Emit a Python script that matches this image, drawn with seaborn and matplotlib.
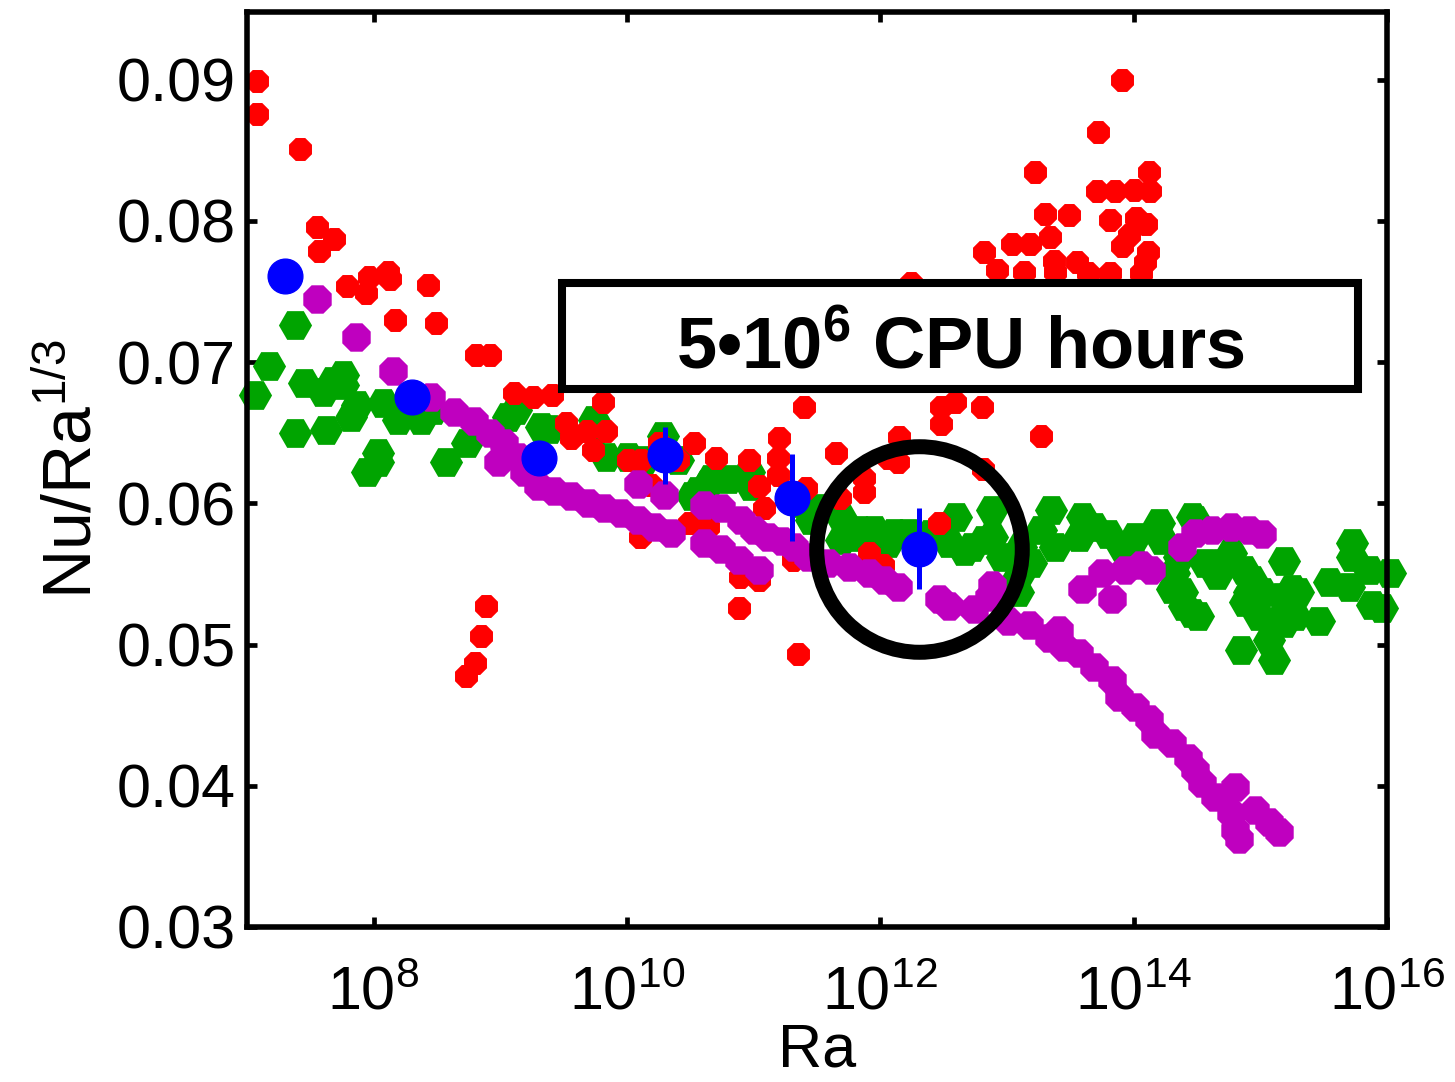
import numpy as np
import pandas as pd
import seaborn as sns
import matplotlib
matplotlib.use("Agg")
import matplotlib.pyplot as plt
from matplotlib.patches import Rectangle
from matplotlib.ticker import FixedLocator, NullLocator, FormatStrFormatter

# ---------------------------------------------------------------------------
# Data: Nu/Ra^(1/3) versus Ra (Ra stored as log10 exponents)
# ---------------------------------------------------------------------------
# experiments (red)
red_log_ra = [7.08, 7.08, 7.42, 7.55, 7.69, 7.57, 7.79, 7.96, 8.11, 8.13,
              7.94, 8.43, 8.17, 8.49, 8.81, 8.92, 9.11, 9.26, 9.41, 9.81,
              9.52, 9.56, 9.68, 9.83, 9.73, 10.01, 10.10, 8.89, 8.85, 8.80,
              8.73, 10.25, 10.40, 10.53, 10.70, 10.19, 10.49, 10.64, 11.40, 11.20,
              10.96, 11.19, 11.19, 11.04, 11.08, 11.41, 11.65, 10.89, 11.04, 10.88,
              11.31, 11.35, 12.15, 12.06, 12.14, 11.87, 11.87, 12.46, 11.91, 12.02,
              13.27, 12.48, 12.59, 12.48, 12.80, 11.68, 12.81, 10.11]
red_nu = [0.0899, 0.0876, 0.0851, 0.0796, 0.0787, 0.0779, 0.0754, 0.0760, 0.0764, 0.0759,
          0.0749, 0.0755, 0.0730, 0.0728, 0.0705, 0.0705, 0.0678, 0.0675, 0.0677, 0.0672,
          0.0657, 0.0646, 0.0651, 0.0651, 0.0638, 0.0631, 0.0576, 0.0527, 0.0506, 0.0487,
          0.0478, 0.0643, 0.0631, 0.0643, 0.0632, 0.0613, 0.0586, 0.0583, 0.0668, 0.0646,
          0.0631, 0.0632, 0.0620, 0.0612, 0.0597, 0.0611, 0.0636, 0.0548, 0.0546, 0.0526,
          0.0560, 0.0493, 0.0647, 0.0632, 0.0629, 0.0618, 0.0608, 0.0586, 0.0565, 0.0556,
          0.0648, 0.0668, 0.0672, 0.0656, 0.0668, 0.0604, 0.0624, 0.0631]
red_high_log_ra = [13.91, 13.72, 13.22, 14.12, 13.71, 13.85, 14.00, 14.13, 13.30, 13.49,
                   13.34, 13.81, 14.02, 14.10, 13.96, 13.91, 14.11, 14.09, 13.04, 13.18,
                   13.37, 13.55, 13.13, 13.38, 13.64, 13.81, 14.06, 12.82, 12.92, 12.24]
red_high_nu = [0.0900, 0.0863, 0.0835, 0.0835, 0.0821, 0.0821, 0.0822, 0.0821, 0.0805, 0.0804,
               0.0789, 0.0801, 0.0802, 0.0798, 0.0790, 0.0782, 0.0778, 0.0771, 0.0784, 0.0784,
               0.0772, 0.0771, 0.0764, 0.0764, 0.0763, 0.0763, 0.0763, 0.0778, 0.0765, 0.0756]

# experiments (green)
green_log_ra = [7.06, 7.17, 7.38, 7.45, 7.60, 7.68, 7.76, 7.76, 7.87, 8.07,
                7.82, 7.38, 7.62, 8.19, 8.37, 8.47, 8.03, 8.03, 7.95, 8.57,
                8.74, 9.06, 9.12, 9.32, 9.38, 9.74, 9.75, 9.83, 10.01, 10.13,
                10.28, 10.40, 10.51, 10.64, 10.80, 10.96, 10.98, 10.66, 10.56, 11.38,
                11.51, 11.45, 11.69, 11.69, 11.83, 11.95, 12.11, 12.22, 12.60, 12.54,
                12.72, 12.88, 12.88, 12.96, 13.09, 13.09, 13.35, 13.59, 13.69, 13.38,
                13.27, 13.11, 13.57, 13.80, 14.20, 14.48, 14.01, 13.91, 14.22, 13.96,
                14.32, 14.38, 14.46, 14.36, 14.64, 14.70, 14.91, 14.99, 14.88, 15.17,
                15.25, 15.15, 15.27, 15.46, 14.85, 15.11, 15.07, 15.19, 15.72, 15.72,
                15.86, 16.02, 15.54, 15.70, 15.88, 15.96, 14.51, 13.19, 14.46, 14.30,
                14.40, 14.56, 14.66, 14.77, 14.87, 14.93, 15.01, 15.19, 15.30, 11.83,
                12.06, 12.32, 12.82, 12.66, 12.40]
green_nu = [0.0677, 0.0697, 0.0726, 0.0685, 0.0679, 0.0687, 0.0691, 0.0684, 0.0670, 0.0671,
            0.0661, 0.0650, 0.0652, 0.0659, 0.0659, 0.0666, 0.0636, 0.0629, 0.0622, 0.0629,
            0.0643, 0.0661, 0.0666, 0.0654, 0.0653, 0.0659, 0.0652, 0.0633, 0.0633, 0.0631,
            0.0648, 0.0631, 0.0605, 0.0614, 0.0617, 0.0622, 0.0612, 0.0617, 0.0609, 0.0600,
            0.0597, 0.0588, 0.0590, 0.0574, 0.0581, 0.0581, 0.0579, 0.0579, 0.0590, 0.0572,
            0.0569, 0.0595, 0.0576, 0.0562, 0.0548, 0.0537, 0.0595, 0.0590, 0.0583, 0.0569,
            0.0581, 0.0569, 0.0576, 0.0578, 0.0586, 0.0588, 0.0576, 0.0569, 0.0574, 0.0565,
            0.0551, 0.0537, 0.0522, 0.0562, 0.0554, 0.0558, 0.0537, 0.0520, 0.0530, 0.0534,
            0.0539, 0.0517, 0.0520, 0.0517, 0.0496, 0.0489, 0.0503, 0.0559, 0.0572, 0.0562,
            0.0553, 0.0551, 0.0544, 0.0541, 0.0528, 0.0526, 0.0520, 0.0558, 0.0590, 0.0539,
            0.0527, 0.0558, 0.0549, 0.0565, 0.0553, 0.0546, 0.0537, 0.0515, 0.0537, 0.0576,
            0.0572, 0.0574, 0.0574, 0.0566, 0.0578]

# experiments (magenta)
magenta_log_ra = [7.55, 7.86, 8.15, 8.45, 8.63, 8.79, 8.92, 9.03, 8.98, 9.14,
                  9.19, 9.30, 9.42, 9.56, 9.69, 9.82, 9.95, 10.09, 10.21, 10.35,
                  10.09, 10.29, 10.61, 10.74, 10.61, 10.74, 10.90, 11.00, 11.11, 10.88,
                  11.04, 11.22, 11.32, 11.43, 11.59, 11.75, 11.91, 12.03, 12.14, 12.46,
                  12.54, 12.74, 12.88, 13.01, 13.17, 13.33, 13.45, 13.57, 13.69, 13.83,
                  13.88, 14.01, 14.12, 14.17, 14.30, 14.43, 14.48, 14.54, 14.64, 14.77,
                  14.80, 14.83, 14.80, 14.96, 15.07, 15.15, 13.59, 13.75, 13.83, 13.93,
                  14.06, 14.14, 14.38, 14.48, 14.62, 14.77, 14.91, 15.01, 13.41, 12.86]
magenta_nu = [0.0745, 0.0718, 0.0694, 0.0675, 0.0665, 0.0658, 0.0650, 0.0643, 0.0629, 0.0633,
              0.0622, 0.0612, 0.0609, 0.0605, 0.0600, 0.0597, 0.0593, 0.0588, 0.0583, 0.0579,
              0.0614, 0.0606, 0.0599, 0.0597, 0.0572, 0.0568, 0.0588, 0.0581, 0.0576, 0.0560,
              0.0553, 0.0573, 0.0569, 0.0562, 0.0558, 0.0555, 0.0551, 0.0546, 0.0541, 0.0532,
              0.0527, 0.0525, 0.0542, 0.0517, 0.0514, 0.0505, 0.0498, 0.0494, 0.0484, 0.0475,
              0.0463, 0.0456, 0.0447, 0.0437, 0.0430, 0.0420, 0.0411, 0.0402, 0.0392, 0.0381,
              0.0369, 0.0362, 0.0399, 0.0383, 0.0374, 0.0367, 0.0539, 0.0551, 0.0532, 0.0553,
              0.0556, 0.0553, 0.0569, 0.0579, 0.0581, 0.0583, 0.0581, 0.0578, 0.0510, 0.0534]

# simulations (blue) with error bars
blue_ra = [2e7, 2e8, 2e9, 2e10, 2e11, 2e12]
blue_nu = [0.0761, 0.0675, 0.0632, 0.0634, 0.0604, 0.0568]
blue_err = [0.0, 0.0, 0.0, 0.0020, 0.0031, 0.0029]

highlight_ra = 2e12
highlight_nu = 0.0568
cost_label = r"5•10$^{\mathbf{6}}$ CPU hours"

x_ticks = [1e8, 1e10, 1e12, 1e14, 1e16]
y_ticks = [0.03, 0.04, 0.05, 0.06, 0.07, 0.08, 0.09]

# ---------------------------------------------------------------------------
red = pd.DataFrame({"Ra": 10.0 ** np.array(red_log_ra + red_high_log_ra),
                    "Nu": red_nu + red_high_nu})
green = pd.DataFrame({"Ra": 10.0 ** np.array(green_log_ra), "Nu": green_nu})
magenta = pd.DataFrame({"Ra": 10.0 ** np.array(magenta_log_ra), "Nu": magenta_nu})

sns.set_theme(style="ticks")
plt.rcParams["font.family"] = ["Liberation Sans", "DejaVu Sans"]
plt.rcParams["mathtext.fontset"] = "custom"
plt.rcParams["mathtext.rm"] = "Liberation Sans"
plt.rcParams["mathtext.it"] = "Liberation Sans:italic"
plt.rcParams["mathtext.bf"] = "Liberation Sans:bold"
plt.rcParams["mathtext.default"] = "regular"
plt.rcParams["text.color"] = "black"
plt.rcParams["axes.labelcolor"] = "black"
plt.rcParams["xtick.color"] = "black"
plt.rcParams["ytick.color"] = "black"

fig = plt.figure(figsize=(14.55, 10.82), dpi=100)
fig.patch.set_facecolor("white")
ax = fig.add_axes([0.1698, 0.1433, 0.7835, 0.8456])
ax.set_facecolor("white")

sns.scatterplot(data=green, x="Ra", y="Nu", ax=ax, marker="H", s=570,
                color="#00A400", linewidth=0, zorder=2, clip_on=False, legend=False)
sns.scatterplot(data=red, x="Ra", y="Nu", ax=ax, marker="8", s=320,
                color="#FF0000", linewidth=0, zorder=3, clip_on=False, legend=False)
sns.scatterplot(data=magenta, x="Ra", y="Nu", ax=ax, marker="8", s=490,
                color="#BF00BF", linewidth=0, zorder=4, clip_on=False, legend=False)

ax.errorbar(blue_ra, blue_nu, yerr=blue_err, fmt="o", ms=25, color="#0000FF",
            mec="#0000FF", elinewidth=3.6, capsize=0, zorder=5, clip_on=False)

# ring around the most expensive simulation
ax.plot([highlight_ra], [highlight_nu], marker="o", ms=148, mfc="none",
        mec="black", mew=10.8, zorder=6, clip_on=False, linestyle="none")

# framed annotation
ax.add_patch(Rectangle((0.2763, 0.5880), 0.6983, 0.1158, transform=ax.transAxes,
                       facecolor="white", edgecolor="black", linewidth=5.8,
                       zorder=7, clip_on=False))
ax.text(0.6254, 0.611, cost_label, transform=ax.transAxes, ha="center",
        va="baseline", fontsize=52, fontweight="bold", color="black", zorder=8)

ax.set_xscale("log")
ax.set_xlim(1e7, 1e16)
ax.set_ylim(0.03, 0.0948)
ax.xaxis.set_major_locator(FixedLocator(x_ticks))
ax.xaxis.set_minor_locator(NullLocator())
ax.set_yticks(y_ticks)
ax.yaxis.set_major_formatter(FormatStrFormatter("%.2f"))

for s in ax.spines.values():
    s.set_linewidth(4.0)
    s.set_color("black")
    s.set_zorder(9)
ax.tick_params(axis="both", which="major", direction="in", length=7, width=3.4,
               labelsize=44, top=True, right=True, colors="black")
ax.tick_params(axis="y", pad=8)
ax.tick_params(axis="x", pad=28)

ax.set_xlabel("Ra", fontsize=44, labelpad=0)
ax.set_ylabel(r"Nu/Ra$^{1/3}$", fontsize=49, labelpad=8)

fig.savefig("out.png", dpi=100, facecolor="white")
